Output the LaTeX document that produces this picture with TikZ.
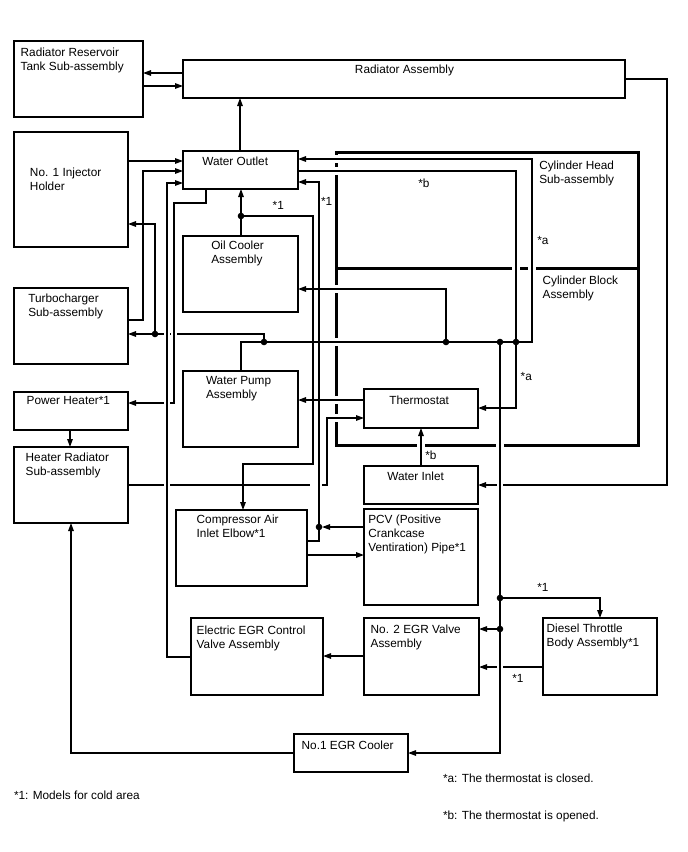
\documentclass[tikz,border=0pt]{standalone}
\usepackage{fontspec}
\setmainfont{Liberation Sans}
\usetikzlibrary{arrows.meta}
\tikzset{
  box/.style={draw, line width=1.3pt, inner sep=0pt, outer sep=0pt, anchor=north west},
  txt/.style={inner sep=0pt, outer sep=0pt, anchor=north west, align=left, font=\fontsize{11.8}{14}\selectfont},
  conn/.style={line width=1.3pt, line join=miter},
  tip/.style={-{Triangle[length=8pt,width=5.5pt]}},
  wall/.style={line width=3pt, line join=miter},
  dot/.style={fill=black},
}
\newcommand\hgp[1]{\fill[white] (#1) ++(-2.8,-1.6) rectangle ++(5.6,3.2);}
\newcommand\wgv[1]{\fill[white] (#1) ++(-2.6,-3.6) rectangle ++(5.2,7.2);}
\newcommand\wgh[1]{\fill[white] (#1) ++(-3.6,-2.6) rectangle ++(7.2,5.2);}
\begin{document}
\begin{tikzpicture}[x=1pt,y=-1pt]
\useasboundingbox (0,0) rectangle (688,852);
% boxes (placed first as nodes, drawn)
\node[box, minimum width=129, minimum height=76] (res) at (14,41) {};
\node[box, minimum width=442, minimum height=38] (rad) at (183,60) {};
\node[box, minimum width=114, minimum height=115] (inj) at (14,132) {};
\node[box, minimum width=114, minimum height=76] (turbo) at (14,288) {};
\node[box, minimum width=114, minimum height=38] (ph) at (14,392) {};
\node[box, minimum width=114, minimum height=76] (hr) at (14,447) {};
\node[box, minimum width=115, minimum height=38] (wo) at (183,151) {};
\node[box, minimum width=115, minimum height=76] (oc) at (183,236) {};
\node[box, minimum width=115, minimum height=76] (wp) at (183,371) {};
\node[box, minimum width=114, minimum height=39] (th) at (364,389) {};
\node[box, minimum width=114, minimum height=38] (wi) at (364,466) {};
\node[box, minimum width=114, minimum height=96] (pcv) at (364,509) {};
\node[box, minimum width=131, minimum height=76] (cai) at (176,510) {};
\node[box, minimum width=132, minimum height=77] (eegr) at (191,618) {};
\node[box, minimum width=115, minimum height=77] (egr2) at (364,618) {};
\node[box, minimum width=114, minimum height=77] (dtb) at (543,618) {};
\node[box, minimum width=114, minimum height=38] (egr1) at (294,734) {};
% junctions
\coordinate (j1) at (264,342);
\coordinate (j2) at (446,342);
\coordinate (j3) at (500,342);
\coordinate (j4) at (516,342);
\coordinate (jt) at (155,334);
\coordinate (jo) at (241,216);
\coordinate (jc) at (319,527);
\coordinate (je1) at (500,598);
\coordinate (je2) at (500,629);
% cylinder head / block walls
\draw[wall] (336,152) rectangle (638,445);
\draw[wall] (336,268) -- (638,268);
\wgv{336,159}\wgv{336,171}\wgv{336,289}\wgv{336,342}\wgv{336,400}\wgv{336,418}
\wgh{516,268}\wgh{532,268}\wgh{421,445}\wgh{500,445}
% lines that are interrupted at crossings
\draw[conn,tip] (j1) -- (264,334) -- (turbo.east |- 0,334);
\draw[conn,tip] (hr.east |- 0,485) -- (327,485) -- (327,418) -- (th.west |- 0,418);
\draw[conn,tip] (rad.east |- 0,79) -- (667,79) -- (667,485) -- (wi.east |- 0,485);
\draw[conn,tip] (dtb.west |- 0,667) -- (egr2.east |- 0,667);
\hgp{167,334}\hgp{174,334}\hgp{167,485}\hgp{313,485}\hgp{319,485}\hgp{500,485}\hgp{500,667}
\draw[conn,tip] (wo.south -| 206,0) -- (206,203) -- (174,203) -- (174,403) -- (ph.east |- 0,403);
\hgp{167,403}
% other connectors
\draw[conn,tip] (rad.west |- 0,73) -- (res.east |- 0,73);
\draw[conn,tip] (res.east |- 0,86) -- (rad.west |- 0,86);
\draw[conn,tip] (wo.north -| 240,0) -- (rad.south -| 240,0);
\draw[conn,tip] (inj.east |- 0,161) -- (wo.west |- 0,161);
\draw[conn,tip] (turbo.east |- 0,320) -- (143,320) -- (143,171) -- (wo.west |- 0,171);
\draw[conn,tip] (eegr.west |- 0,657) -- (167,657) -- (167,183) -- (wo.west |- 0,183);
\draw[conn,tip] (jt) -- (155,224) -- (inj.east |- 0,224);
\draw[conn,tip] (oc.north -| 241,0) -- (wo.south -| 241,0);
\draw[conn,tip] (jo) -- (313,216) -- (313,464) -- (243,464) -- (cai.north -| 243,0);
\draw[conn,tip] (cai.east |- 0,541) -- (319,541) -- (319,182) -- (wo.east |- 0,182);
\draw[conn,tip,shorten >=3pt] (pcv.west |- jc) -- (jc);
\draw[conn,tip] (cai.east |- 0,555) -- (pcv.west |- 0,555);
\draw[conn,tip] (th.west |- 0,400) -- (wp.east |- 0,400);
\draw[conn] (j1) -- (241,342) -- (wp.north -| 241,0);
\draw[conn,tip] (j1) -- (532,342) -- (532,159) -- (wo.east |- 0,159);
\draw[conn,tip] (wo.east |- 0,171) -- (516,171) -- (516,408) -- (th.east |- 0,408);
\draw[conn,tip] (j2) -- (446,289) -- (oc.east |- 0,289);
\draw[conn,tip] (j3) -- (500,753) -- (egr1.east |- 0,753);
\draw[conn,tip] (je1) -- (600,598) -- (dtb.north -| 600,0);
\draw[conn,tip] (je2) -- (egr2.east |- je2);
\draw[conn,tip] (egr2.west |- 0,656) -- (eegr.east |- 0,656);
\draw[conn,tip] (egr1.west |- 0,753) -- (71,753) -- (hr.south -| 71,0);
\draw[conn,tip] (ph.south -| 70,0) -- (hr.north -| 70,0);
\draw[conn,tip] (wi.north -| 421,0) -- (th.south -| 421,0);
% dots
\foreach \p in {j1,j2,j3,j4,jt,jo,jc,je1,je2} \fill[dot] (\p) circle (3.3);
% box texts
\node[txt] (t-res) at (20.7,48.3) {Radiator Reservoir\\Tank Sub-assembly};
\node[txt, anchor=north] (t-rad) at (404.5,65) {Radiator Assembly};
\node[txt] (t-inj) at (30,167.7) {No. 1 Injector\\Holder};
\node[txt] (t-turbo) at (28.3,294) {Turbocharger\\Sub-assembly};
\node[txt] (t-ph) at (26.7,396.7) {Power Heater*1};
\node[txt] (t-hr) at (25.7,453.3) {Heater Radiator\\Sub-assembly};
\node[txt] (t-wo) at (202.3,156.7) {Water Outlet};
\node[txt] (t-oc) at (211.3,240.7) {Oil Cooler\\Assembly};
\node[txt] (t-wp) at (206,376.7) {Water Pump\\Assembly};
\node[txt] (t-cai) at (196.7,515) {Compressor Air\\Inlet Elbow*1};
\node[txt] (t-th) at (389.3,395.7) {Thermostat};
\node[txt] (t-wi) at (387.3,471.7) {Water Inlet};
\node[txt] (t-pcv) at (368.3,515) {PCV (Positive\\Crankcase\\Ventiration) Pipe*1};
\node[txt] (t-eegr) at (196.7,625.7) {Electric EGR Control\\Valve Assembly};
\node[txt] (t-egr2) at (370.7,624.5) {No. 2 EGR Valve\\Assembly};
\node[txt] (t-dtb) at (546.7,624) {Diesel Throttle\\Body Assembly*1};
\node[txt] (t-egr1) at (301.7,740.7) {No.1 EGR Cooler};
\node[txt] (t-ch) at (539.3,160.7) {Cylinder Head\\Sub-assembly};
\node[txt] (t-cb) at (542.7,275.7) {Cylinder Block\\Assembly};
% labels
\node[txt] (l1) at (272.7,201.7) {*1};
\node[txt] (l2) at (321,197.3) {*1};
\node[txt] (l3) at (418.3,179) {*b};
\node[txt] (l4) at (537.3,236) {*a};
\node[txt] (l5) at (520.7,372.3) {*a};
\node[txt] (l6) at (425.3,450.7) {*b};
\node[txt] (l7) at (537.3,583.3) {*1};
\node[txt] (l8) at (512.3,674.3) {*1};
% footnotes
\node[txt] (f1) at (14,790.5) {*1: Models for cold area};
\node[txt] (f2) at (443,773.5) {*a: The thermostat is closed.};
\node[txt] (f3) at (443,811) {*b: The thermostat is opened.};
\end{tikzpicture}
\end{document}
